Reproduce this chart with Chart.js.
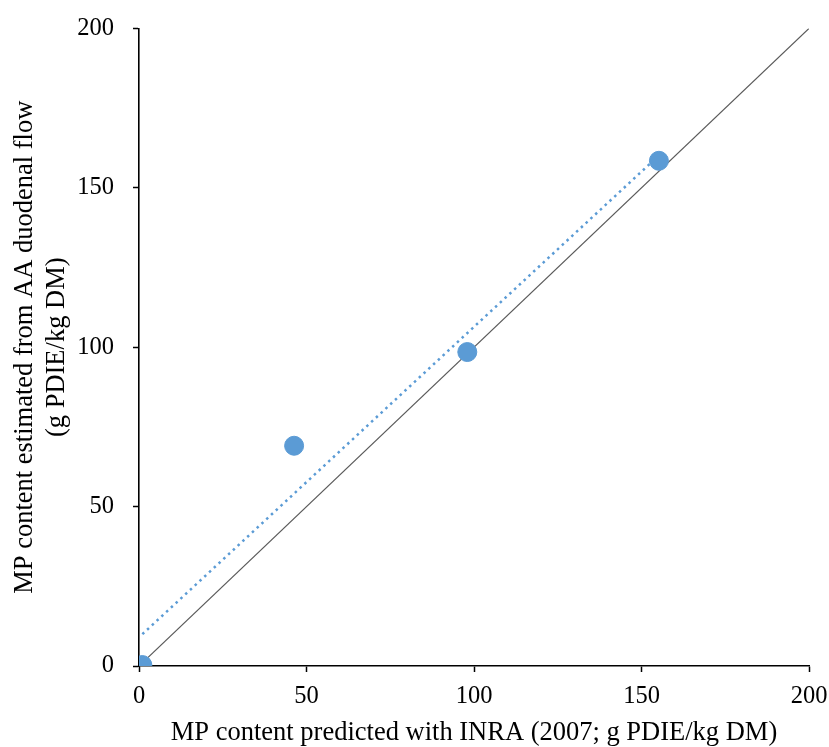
<!DOCTYPE html>
<html>
  <head>
    <title>MP content comparison</title>
    <script src="https://cdn.jsdelivr.net/npm/chart.js"></script>
    <style>
      body { margin: 0; background: #fff; }
    </style>
  </head>
  <body>
    <canvas id="myChart" width="829" height="747"></canvas>
    <script>
      'use strict'
      // values
      const predicted = [1, 46.3, 98, 155.2];
      const estimated = [0.3, 69.1, 98.5, 158.5];
      const tickValues = [0, 50, 100, 150, 200];
      const trendSlope = 0.974;
      const trendIntercept = 9.0;

      const xTitle = 'MP content predicted with INRA (2007; g PDIE/kg DM)';
      const yTitle = ['MP content estimated from AA duodenal flow', '(g PDIE/kg DM)'];

      const points = predicted.map((x, i) => ({ x: x, y: estimated[i] }));
      const xMin = Math.min(...predicted);
      const xMax = Math.max(...predicted);
      const trend = [xMin, xMax].map(x => ({ x: x, y: trendIntercept + trendSlope * x }));
      const oneToOne = [{ x: 0, y: 0 }, { x: 200, y: 200 }];

      const serif = '"Liberation Serif", "Times New Roman", serif';
      const tickFont = { family: serif, size: 24.5 };
      const titleFont = { family: serif, size: 26.5 };

      const axis = (title) => ({
        type: 'linear',
        min: 0,
        max: 200,
        afterBuildTicks: scale => { scale.ticks = tickValues.map(v => ({ value: v })); },
        grid: {
          drawOnChartArea: false,
          drawTicks: true,
          tickLength: 6,
          tickWidth: 1.5,
          tickColor: '#000',
        },
        border: { display: true, color: '#000', width: 1.6 },
        ticks: { color: '#000', font: tickFont, padding: 10 },
        title: { display: true, text: title, color: '#000', font: titleFont },
      });

      const xAxis = axis(xTitle);
      xAxis.title.padding = { top: 0, bottom: -2 };
      xAxis.afterFit = scale => {
        scale.height = 81;
        scale.paddingRight = 20;
        scale.paddingLeft = 0;
      };

      const yAxis = axis(yTitle);
      yAxis.ticks.padding = 19;
      yAxis.title.padding = { top: 9, bottom: 0 };
      yAxis.afterFit = scale => {
        scale.width = 139;
        scale.paddingTop = 0;
        scale.paddingBottom = 0;
      };

      new Chart(document.getElementById('myChart'), {
        type: 'scatter',
        data: {
          datasets: [
            {
              data: points,
              backgroundColor: '#5B9BD5',
              borderColor: '#5B9BD5',
              pointRadius: 9.5,
              order: 0,
            },
            {
              type: 'line',
              data: trend,
              borderColor: '#5B9BD5',
              borderWidth: 2.5,
              borderDash: [2.5, 4],
              pointRadius: 0,
              fill: false,
              order: 1,
            },
            {
              type: 'line',
              data: oneToOne,
              borderColor: '#595959',
              borderWidth: 1.2,
              pointRadius: 0,
              fill: false,
              order: 2,
            },
          ]
        },
        options: {
          responsive: false,
          animation: false,
          layout: { padding: { top: 28.5, right: 20, left: 0, bottom: 0 } },
          plugins: { legend: { display: false }, tooltip: { enabled: false } },
          scales: { x: xAxis, y: yAxis },
        }
      });
    </script>
  </body>
</html>
